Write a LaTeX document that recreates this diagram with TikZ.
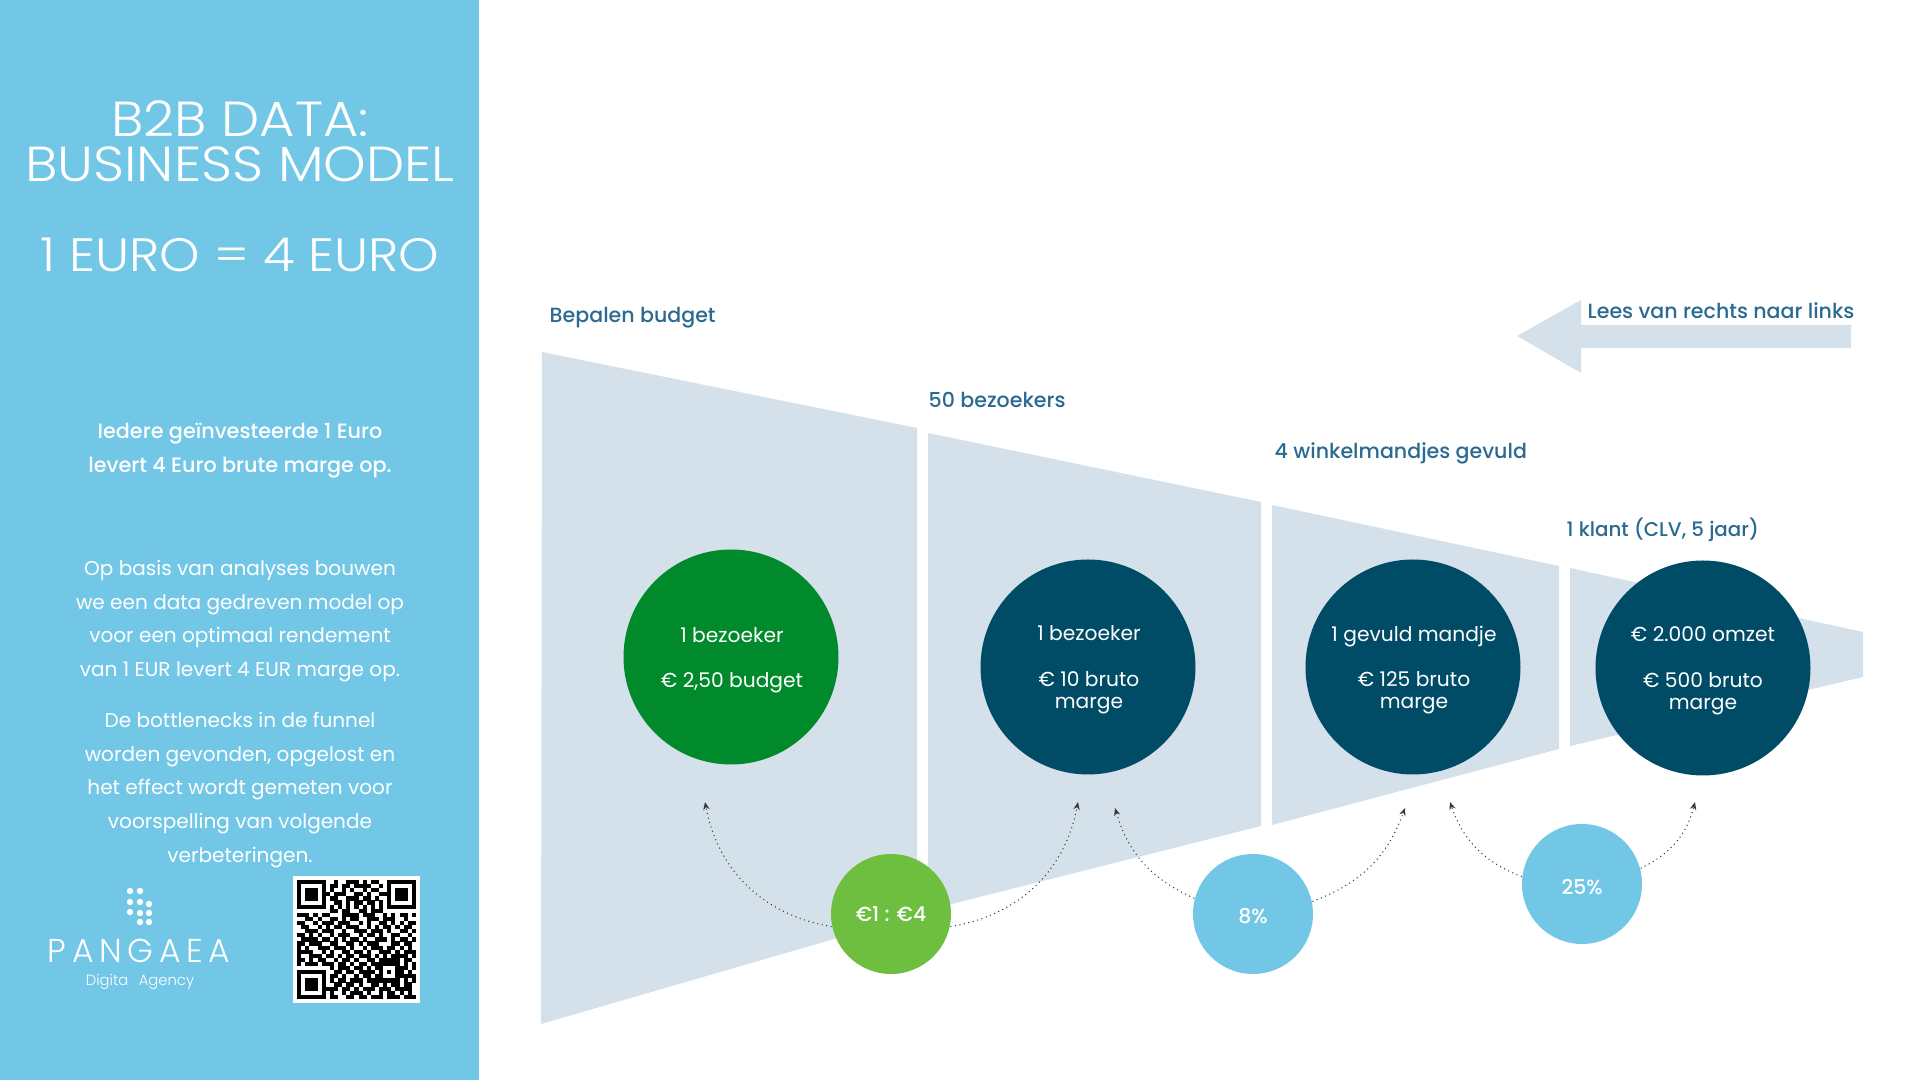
\documentclass[tikz,border=0pt]{standalone}
\usepackage{fontspec}
\setmainfont{Poppins}
\newfontfamily\lightfont{Poppins Light}
\newfontfamily\headfont[FakeStretch=1.1]{Poppins Light}
\newfontfamily\mediumfont{Poppins Medium}
\newfontfamily\logofont[LetterSpace=17]{Poppins Light}
\usetikzlibrary{arrows.meta}
\definecolor{panel_blue}{RGB}{114, 199, 231}
\definecolor{funnel_grey}{RGB}{212, 225, 234}
\definecolor{label_blue}{RGB}{42, 106, 144}
\definecolor{circle_dark}{RGB}{0, 76, 102}
\definecolor{circle_green}{RGB}{0, 138, 43}
\definecolor{circle_lime}{RGB}{110, 190, 63}
\definecolor{link_grey}{RGB}{50, 60, 66}

\newcount\qrcol
\def\qrscan#1{\ifx#1.\else
  \if#11\fill[black] ({297+4.1*\the\qrcol},{880+4.1*\qrline}) rectangle +(4.15,4.15);\fi
  \global\advance\qrcol by 1 \expandafter\qrscan\fi}

\begin{document}
\begin{tikzpicture}[x=0.01cm, y=-0.01cm,
    funnel/.style={fill=funnel_grey},
    body/.style={text=white, align=center, inner sep=0, font=\fontsize{5.7}{9.6}\selectfont},
    headline/.style={text=white, align=center, inner sep=0, font=\headfont\fontsize{14}{12.8}\selectfont},
    steplabel/.style={text=label_blue, anchor=west, inner sep=0, font=\mediumfont\fontsize{5.85}{7}\selectfont},
    bigcircle/.style={circle, minimum size=215*0.01cm, inner sep=0},
    bigtext/.style={inner sep=0, text=white, align=center, font=\fontsize{5.75}{6.4}\selectfont},
    smallcircle/.style={circle, minimum size=120*0.01cm, inner sep=0},
    smalltext/.style={inner sep=0, text=white, font=\mediumfont\fontsize{5.8}{7}\selectfont},
    link/.style={densely dotted, line width=0.3pt, link_grey, -{Stealth[length=2.2pt, width=1.8pt]}}]
    \useasboundingbox (0,0) rectangle (1920,1080);

    % Side panel
    \fill[panel_blue] (0,0) rectangle (479,1080);
    \node[headline] (title) at (240,141) {B2B DATA:\\BUSINESS MODEL};
    \node[headline, font=\headfont\fontsize{13.3}{12.8}\selectfont] (rule) at (240,255) {1 EURO = 4 EURO};
    \node[body, font=\mediumfont\fontsize{5.9}{9.6}\selectfont] (intro) at (240,451) {Iedere geïnvesteerde 1 Euro\\levert 4 Euro brute marge op.};
    \node[body] (basis) at (240,621) {Op basis van analyses bouwen\\we een data gedreven model op\\voor een optimaal rendement\\van 1 EUR levert 4 EUR marge op.};
    \node[body] (bottle) at (240,790) {De bottlenecks in de funnel\\worden gevonden, opgelost en\\het effect wordt gemeten voor\\voorspelling van volgende\\verbeteringen.};

    % Logo
    \foreach \dotx/\doty in {130/891, 140/891, 130/902, 140/902, 149/904, 130/912, 140/913, 149/913, 140/922, 149/922}
        \fill[white] (\dotx,\doty) circle (3.2);
    \node[inner sep=0, text=white, font=\logofont\fontsize{9.4}{10}\selectfont] (logo) at (139,951) {PANGAEA};
    \node[inner sep=0, text=white, font=\lightfont\fontsize{4.2}{5}\selectfont] (agency) at (140,982) {Digita\hspace{3pt}Agency};

    % QR code
    \fill[white] (293,876) rectangle (420,1003);
    \foreach \qrbits [count=\qrline from 0] in {
        11111110010011101011001111111,
        10000010110110111100101000001,
        10111010100101001011001011101,
        10111011011100110100111011101,
        10111010110011101101001011101,
        10000010011010110110101000001,
        11111110101010101010101111111,
        00000000110110011011100000000,
        11101011000111101110010101101,
        00110100110101100111011100100,
        11001011101110010100110101011,
        01100101011011100101011010110,
        00111011100100111011101001101,
        11010100101110010110100110010,
        01111011010101101001110101101,
        11011100110011010111000110110,
        10100111011101001011101101010,
        11110010100110110100111010111,
        10011101101011011101010111101,
        11010110010110100110111110110,
        10111011101101011011111110101,
        00000000101110110101100011101,
        11111110011011011110101011010,
        10000010110100101101100011111,
        10111010101101110111111110101,
        10111010011011010011010110110,
        10111011110110101110111011110,
        10000010100101110100101101010,
        11111110110011011011101110111}
        {\global\qrcol=0 \expandafter\qrscan\qrbits.}

    % Funnel
    \fill[funnel] (542,352) -- (917,428) -- (917,915) -- (541,1024) -- cycle;
    \fill[funnel] (928,433) -- (1261,502) -- (1261,826) -- (928,910) -- cycle;
    \fill[funnel] (1272,505) -- (1559,566) -- (1559,749) -- (1272,825) -- cycle;
    \fill[funnel] (1570,568) -- (1863,632) -- (1863,677) -- (1570,746) -- cycle;

    % Reading direction
    \fill[funnel] (1851,325) -- (1581,325) -- (1581,300) -- (1517,336) -- (1581,373) -- (1581,348) -- (1851,348) -- cycle;
    \node[steplabel] (direction) at (1587,311) {Lees van rechts naar links};

    % Labels
    \node[steplabel] (budget) at (549,318) {Bepalen budget};
    \node[steplabel] (visitors) at (928,400) {50 bezoekers};
    \node[steplabel] (baskets) at (1274,453) {4 winkelmandjes gevuld};
    \node[steplabel, font=\mediumfont\fontsize{5.65}{7}\selectfont] (client) at (1566,530) {1 klant (CLV, 5 jaar)};

    % Big circles
    \node[bigcircle, fill=circle_green] (start) at (731,657) {};
    \node[bigcircle, fill=circle_dark] (visit) at (1088,667) {};
    \node[bigcircle, fill=circle_dark] (basket) at (1413,667) {};
    \node[bigcircle, fill=circle_dark] (revenue) at (1703,668) {};
    \node[bigtext] (starttext) at (732,660.5) {1 bezoeker\\[6.5pt]€ 2,50 budget};
    \node[bigtext] (visittext) at (1089,670) {1 bezoeker\\[6.5pt]€ 10 bruto\\marge};
    \node[bigtext] (baskettext) at (1414,670) {1 gevuld mandje\\[6.5pt]€ 125 bruto\\marge};
    \node[bigtext] (revenuetext) at (1703,671) {€ 2.000 omzet\\[6.5pt]€ 500 bruto\\marge};

    % Small circles
    \node[smallcircle, fill=circle_lime] (ratio) at (891,914) {};
    \node[smallcircle, fill=panel_blue] (eight) at (1253,914) {};
    \node[smallcircle, fill=panel_blue] (quarter) at (1582,884) {};
    \node[smalltext] (ratiotext) at (891,914) {€1 : €4};
    \node[smalltext] (eighttext) at (1253,916.5) {8\%};
    \node[smalltext] (quartertext) at (1582,887.5) {25\%};

    % Arrows
    \coordinate (ratioleft) at (705,802);
    \coordinate (ratioright) at (1078,802);
    \coordinate (eightleft) at (1115,808);
    \coordinate (eightright) at (1405,808);
    \coordinate (quarterleft) at (1450,802);
    \coordinate (quarterright) at (1695,802);
    \draw[link] (ratio.192) to[bend left=35] (ratioleft);
    \draw[link] (ratio.-12) to[bend right=35] (ratioright);
    \draw[link] (eight.165) to[bend left=25] (eightleft);
    \draw[link] (eight.12) to[bend right=25] (eightright);
    \draw[link] (quarter.173) to[bend left=25] (quarterleft);
    \draw[link] (quarter.15) to[bend right=25] (quarterright);
\end{tikzpicture}
\end{document}
